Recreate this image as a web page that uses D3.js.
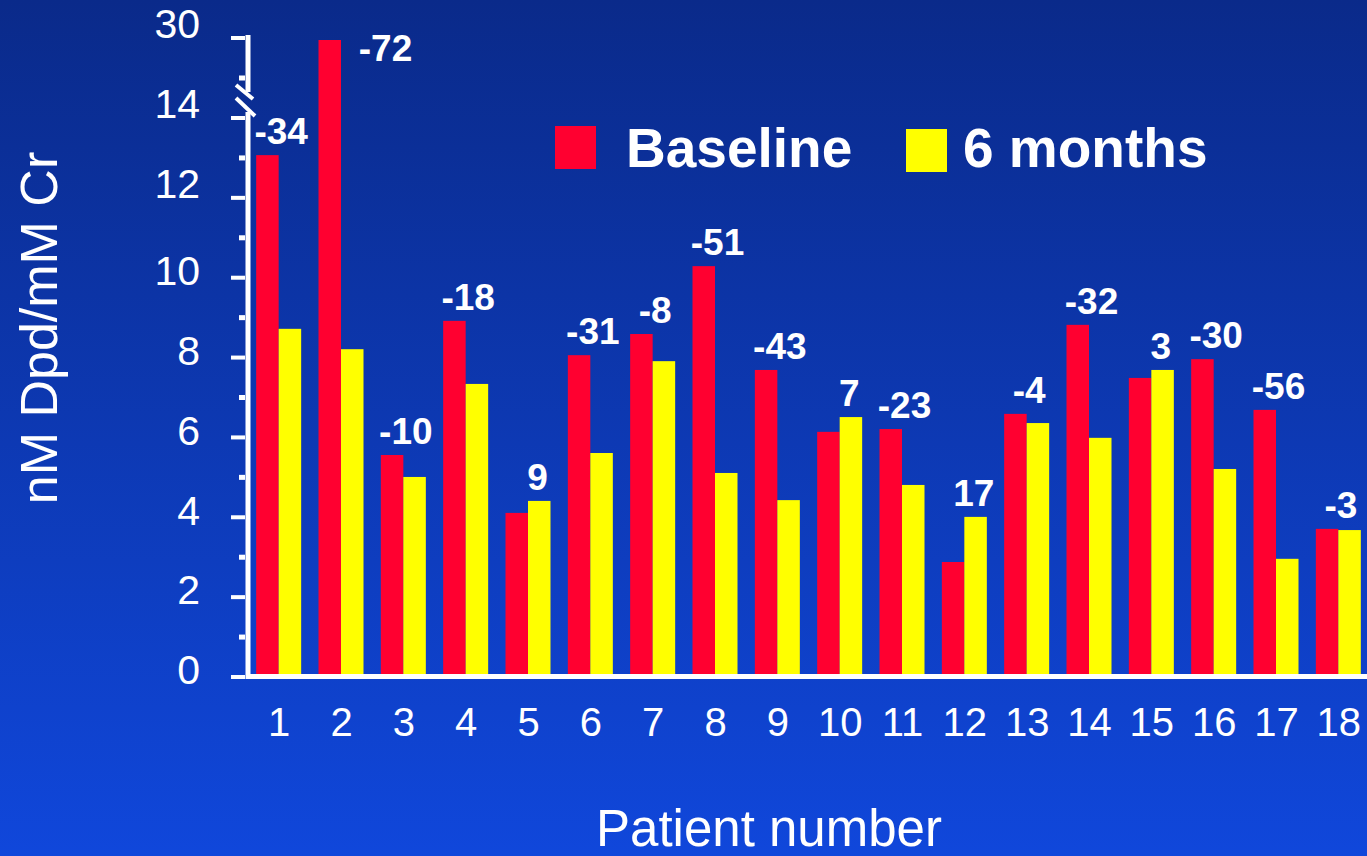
<!DOCTYPE html>
<html>
<head>
<meta charset="utf-8">
<script src="https://cdn.jsdelivr.net/npm/d3@7"></script>
<style>
  html, body { margin: 0; padding: 0; background: #0d38b0; }
  svg { display: block; }
  text { font-family: "Liberation Sans", Arial, Helvetica, sans-serif; fill: #ffffff; }
</style>
</head>
<body>
<script>
// ---- data ----
const patients = ["1","2","3","4","5","6","7","8","9","10","11","12","13","14","15","16","17","18"];
const baseline = [13.07, 29.6, 5.56, 8.92, 4.11, 8.06, 8.59, 10.29, 7.69, 6.14, 6.21, 2.88, 6.59, 8.82, 7.49, 7.96, 6.69, 3.71];
const sixMonths = [8.72, 8.21, 5.01, 7.34, 4.41, 5.61, 7.91, 5.11, 4.43, 6.51, 4.81, 4.01, 6.36, 5.99, 7.69, 5.21, 2.96, 3.68];
const changeLabels = ["-34","-72","-10","-18","9","-31","-8","-51","-43","7","-23","17","-4","-32","3","-30","-56","-3"];
const seriesNames = ["Baseline", "6 months"];
const yTickValues = [0, 2, 4, 6, 8, 10, 12, 14, 30];
const yMinorTicks = [1, 3, 5, 7, 9, 11, 13, 22];

// ---- layout ----
const W = 1367, H = 856;
const colors = ["#ff0030", "#ffff00"];

const svg = d3.select("body").append("svg").attr("width", W).attr("height", H);
const defs = svg.append("defs");
const grad = defs.append("linearGradient").attr("id", "bg").attr("x1", 0).attr("y1", 0).attr("x2", 0).attr("y2", 1);
grad.append("stop").attr("offset", "0%").attr("stop-color", "#0a2a8a");
grad.append("stop").attr("offset", "100%").attr("stop-color", "#1047db");
svg.append("rect").attr("width", W).attr("height", H).attr("fill", "url(#bg)");

// broken y scale: 0..14 linear, then compressed 14..30
const y = d3.scaleLinear().domain([0, 14, 30]).range([677, 118, 38]);
const x0 = d3.scaleBand().domain(patients).range([248, 1370]).paddingInner(0).paddingOuter(0);
const x1 = d3.scaleBand().domain(seriesNames).range([-23, 22]);

const rows = patients.map((p, i) => ({ p, vals: [baseline[i], sixMonths[i]], label: changeLabels[i] }));

// bars
const groups = svg.append("g").selectAll("g").data(rows).join("g")
  .attr("transform", d => `translate(${x0(d.p) + x0.bandwidth() / 2},0)`);
groups.selectAll("rect").data(d => d.vals.map((v, k) => ({ v, k }))).join("rect")
  .attr("x", d => x1(seriesNames[d.k]))
  .attr("width", x1.bandwidth())
  .attr("y", d => y(d.v))
  .attr("height", d => y(0) - y(d.v))
  .attr("fill", d => colors[d.k]);

// change labels
groups.append("text")
  .attr("x", d => d.vals[0] > 14 ? 44 : (+d.label > 0 ? 9 : 2))
  .attr("y", d => d.vals[0] > 14 ? 61 : y(d3.max(d.vals)) - 11)
  .attr("text-anchor", "middle")
  .attr("font-weight", "bold")
  .attr("font-size", 37)
  .text(d => d.label);

// y axis with break
const axisX = 248;
const ax = svg.append("g");
ax.append("line").attr("x1", axisX).attr("x2", axisX).attr("y1", y(30) - 3).attr("y2", 92)
  .attr("stroke", "#fff").attr("stroke-width", 5);
ax.append("line").attr("x1", axisX).attr("x2", axisX).attr("y1", 112).attr("y2", y(0) + 2)
  .attr("stroke", "#fff").attr("stroke-width", 5);
ax.append("line").attr("x1", 236).attr("y1", 85).attr("x2", 253).attr("y2", 99)
  .attr("stroke", "#fff").attr("stroke-width", 4);
ax.append("line").attr("x1", 236).attr("y1", 98).attr("x2", 255).attr("y2", 116)
  .attr("stroke", "#fff").attr("stroke-width", 4);

ax.selectAll(".maj").data(yTickValues).join("rect").attr("class", "maj")
  .attr("x", 231).attr("width", 14).attr("y", d => y(d) - 2).attr("height", 4).attr("fill", "#fff");
ax.selectAll(".min").data(yMinorTicks).join("rect").attr("class", "min")
  .attr("x", 239).attr("width", 6).attr("y", d => y(d) - 2.5).attr("height", 5).attr("fill", "#fff");
ax.selectAll(".tl").data(yTickValues).join("text").attr("class", "tl")
  .attr("x", 200).attr("y", d => y(d) - (d > 10 ? 14 : 7))
  .attr("dy", "0.35em")
  .attr("text-anchor", "end")
  .attr("font-size", 41)
  .text(d => d);

// x axis
svg.append("rect").attr("x", axisX).attr("y", y(0) - 3).attr("width", W - axisX).attr("height", 5).attr("fill", "#fff");
svg.append("g").selectAll("text").data(patients).join("text")
  .attr("x", d => x0(d) + x0.bandwidth() / 2)
  .attr("y", 736)
  .attr("text-anchor", "middle")
  .attr("font-size", 40)
  .text(d => d);

// axis titles
svg.append("text").attr("x", 769).attr("y", 846).attr("text-anchor", "middle")
  .attr("font-size", 51).text("Patient number");
svg.append("text").attr("transform", "translate(57,328) rotate(-90)").attr("text-anchor", "middle")
  .attr("font-size", 52).text("nM Dpd/mM Cr");

// legend
const leg = svg.append("g");
const legItems = [
  { name: seriesNames[0], sx: 555, sy: 126, tx: 626 },
  { name: seriesNames[1], sx: 906, sy: 129, tx: 963 }
];
leg.selectAll("rect").data(legItems).join("rect")
  .attr("x", d => d.sx).attr("y", d => d.sy).attr("width", 41).attr("height", 43)
  .attr("fill", (d, i) => colors[i]);
leg.selectAll("text").data(legItems).join("text")
  .attr("x", d => d.tx).attr("y", 167)
  .attr("font-size", 55).attr("font-weight", "bold")
  .text(d => d.name);
</script>
</body>
</html>
